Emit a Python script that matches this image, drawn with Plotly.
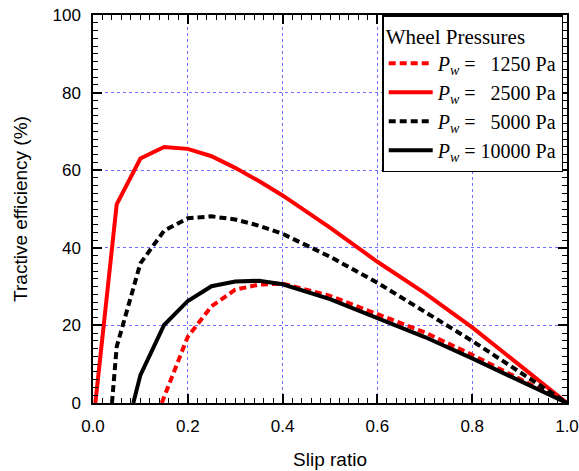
import plotly.graph_objects as go

# Slip ratio values for each wheel pressure series
x_1250 = [0.145, 0.20, 0.25, 0.30, 0.35, 0.40, 0.50, 0.60, 0.70, 0.80, 0.90, 1.00]
y_1250 = [0.0, 17.1, 24.9, 29.2, 30.5, 30.8, 27.6, 23.0, 18.2, 12.4, 6.3, 0.0]

x_2500 = [0.005, 0.05, 0.10, 0.15, 0.20, 0.25, 0.30, 0.35, 0.40, 0.50, 0.60, 0.70, 0.80, 0.90, 1.00]
y_2500 = [0.0, 51.2, 63.0, 66.0, 65.5, 63.6, 60.6, 57.2, 53.5, 45.2, 36.4, 28.3, 19.5, 9.6, 0.0]

x_5000 = [0.04, 0.05, 0.10, 0.15, 0.20, 0.25, 0.30, 0.35, 0.40, 0.50, 0.60, 0.70, 0.80, 0.90, 1.00]
y_5000 = [0.0, 14.5, 36.0, 44.4, 47.6, 48.1, 47.3, 45.7, 43.6, 37.7, 31.0, 23.5, 16.0, 8.0, 0.0]

x_10000 = [0.085, 0.10, 0.15, 0.20, 0.25, 0.30, 0.35, 0.40, 0.50, 0.60, 0.70, 0.80, 0.90, 1.00]
y_10000 = [0.0, 7.2, 20.1, 26.3, 30.1, 31.3, 31.5, 30.6, 26.8, 21.8, 17.0, 11.5, 5.7, 0.0]

names = ["<i>P</i><sub><i>w</i></sub> =\u00a0\u00a0\u00a01250 Pa",
         "<i>P</i><sub><i>w</i></sub> =\u00a0\u00a0\u00a02500 Pa",
         "<i>P</i><sub><i>w</i></sub> =\u00a0\u00a0\u00a05000 Pa",
         "<i>P</i><sub><i>w</i></sub> = 10000 Pa"]

fig = go.Figure()
series = [
    (x_1250, y_1250, "#ff0000", "7px,4px"),
    (x_2500, y_2500, "#ff0000", "solid"),
    (x_5000, y_5000, "#000000", "7px,4px"),
    (x_10000, y_10000, "#000000", "solid"),
]
for (xs, ys, c, d), n in zip(series, names):
    fig.add_trace(go.Scatter(x=xs, y=ys, mode="lines", name=n,
                             line=dict(color=c, width=4, dash=d)))

axis_common = dict(
    showline=True, linecolor="black", linewidth=1.5, mirror="allticks",
    ticks="inside", ticklen=9, tickwidth=1.5, tickcolor="black",
    showgrid=True, gridcolor="#6e6eff", griddash="dot", gridwidth=1,
    zeroline=False, automargin=False,
    tickfont=dict(family="Liberation Sans, Arial", size=17, color="black"),
    ticklabelstandoff=7,
)

fig.update_xaxes(range=[0, 1], dtick=0.2, tickformat=".1f",
                 title=dict(text="Slip ratio", font=dict(family="Liberation Sans, Arial", size=19, color="black"), standoff=18),
                 minor=dict(dtick=0.02, ticks="inside", ticklen=5, tickwidth=1.2, tickcolor="black", showgrid=False),
                 **axis_common)
fig.update_yaxes(range=[0, 100], dtick=20,
                 title=dict(text="Tractive efficiency (%)", font=dict(family="Liberation Sans, Arial", size=19, color="black"), standoff=20),
                 minor=dict(dtick=2, ticks="inside", ticklen=5, tickwidth=1.2, tickcolor="black", showgrid=False),
                 **axis_common)

fig.update_layout(
    width=579, height=471,
    margin=dict(l=93, r=12, t=15, b=68, autoexpand=False),
    paper_bgcolor="white", plot_bgcolor="white",
    showlegend=True,
    legend=dict(
        title=dict(text="Wheel Pressures", font=dict(family="Liberation Serif, Times New Roman", size=21, color="black")),
        font=dict(family="Liberation Serif, Times New Roman", size=20, color="black"),
        x=0.992, y=1.0, xanchor="right", yanchor="top",
        bgcolor="white", bordercolor="black", borderwidth=1.5,
        tracegroupgap=0, itemwidth=44,
    ),
)

fig.write_html("out.html")
